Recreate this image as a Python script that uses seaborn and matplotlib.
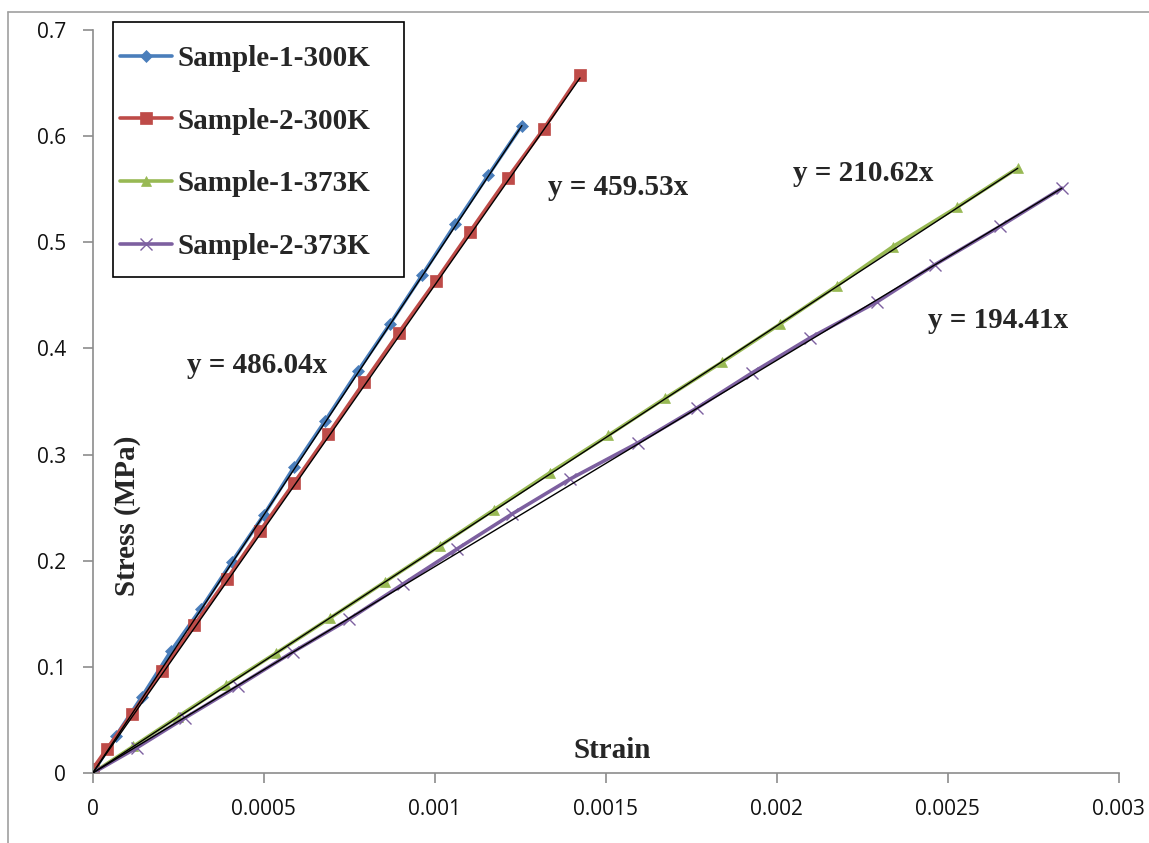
import numpy as np
import pandas as pd
import matplotlib
matplotlib.use("Agg")
import matplotlib.pyplot as plt
from matplotlib.lines import Line2D
from matplotlib.patches import Rectangle
import seaborn as sns

# Stress-strain measurements (strain, stress in MPa)
s1_300_strain = [0, 0.000068, 0.000144, 0.000229, 0.000317, 0.000407, 0.000500, 0.000588,
                 0.000680, 0.000776, 0.000869, 0.000963, 0.001060, 0.001156, 0.001255]
s1_300_stress = [0, 0.035, 0.072, 0.115, 0.155, 0.199, 0.243, 0.288,
                 0.332, 0.379, 0.423, 0.469, 0.517, 0.563, 0.610]

s2_300_strain = [0, 0.000042, 0.000115, 0.000203, 0.000296, 0.000393, 0.000489, 0.000588,
                 0.000688, 0.000793, 0.000895, 0.001004, 0.001103, 0.001214, 0.001319, 0.001425]
s2_300_stress = [0.004, 0.023, 0.056, 0.096, 0.139, 0.183, 0.228, 0.273,
                 0.319, 0.368, 0.415, 0.464, 0.510, 0.561, 0.607, 0.658]

s1_373_strain = [0, 0.000118, 0.000249, 0.000390, 0.000536, 0.000694, 0.000854, 0.001015,
                 0.001173, 0.001337, 0.001507, 0.001673, 0.001840, 0.002010, 0.002176,
                 0.002340, 0.002527, 0.002705]
s1_373_stress = [0, 0.025, 0.053, 0.083, 0.113, 0.146, 0.180, 0.214,
                 0.248, 0.283, 0.318, 0.353, 0.387, 0.423, 0.459,
                 0.496, 0.533, 0.570]

s2_373_strain = [0, 0.000130, 0.000270, 0.000425, 0.000585, 0.000750, 0.000907, 0.001065,
                 0.001226, 0.001396, 0.001594, 0.001767, 0.001928, 0.002098, 0.002294,
                 0.002463, 0.002653, 0.002834]
s2_373_stress = [0, 0.024, 0.052, 0.082, 0.114, 0.145, 0.178, 0.211,
                 0.244, 0.277, 0.311, 0.344, 0.377, 0.410, 0.444,
                 0.479, 0.515, 0.551]

series_names = ["Sample-1-300K", "Sample-2-300K", "Sample-1-373K", "Sample-2-373K"]
trend_slopes = [486.04, 459.53, 210.62, 194.41]
x_ticks = [0, 0.0005, 0.001, 0.0015, 0.002, 0.0025, 0.003]
x_tick_labels = ["0", "0.0005", "0.001", "0.0015", "0.002", "0.0025", "0.003"]
y_ticks = [0, 0.1, 0.2, 0.3, 0.4, 0.5, 0.6, 0.7]
y_tick_labels = ["0", "0.1", "0.2", "0.3", "0.4", "0.5", "0.6", "0.7"]

sns.set_style("white")
plt.rcParams["font.family"] = ["Open Sans", "DejaVu Sans"]

W, H = 1149, 843
fig = plt.figure(figsize=(W / 100, H / 100), dpi=100)
ax = fig.add_axes([0.0807, 0.083, 0.8929, 0.8814])

colors = ["#4A7EBB", "#BE4B48", "#98B954", "#7D60A0"]
markers = ["D", "s", "^", "x"]
msizes = [6.5, 8.5, 7.5, 9]
data = [(s1_300_strain, s1_300_stress), (s2_300_strain, s2_300_stress),
        (s1_373_strain, s1_373_stress), (s2_373_strain, s2_373_stress)]

handles = []
for (xs, ys), name, c, m, ms in zip(data, series_names, colors, markers, msizes):
    df = pd.DataFrame({"strain": xs, "stress": ys})
    mew = 1.0 if m == "x" else 0.5
    sns.lineplot(data=df, x="strain", y="stress", ax=ax, color=c, lw=2.6,
                 marker=m, markersize=ms, markeredgecolor=c,
                 markeredgewidth=mew, sort=False, label=name, legend=False)
    handles.append(Line2D([0], [0], color=c, lw=2.6, marker=m, markersize=ms,
                          markeredgecolor=c, markeredgewidth=mew))

# Linear trendlines through the origin
for (xs, ys), k in zip(data, trend_slopes):
    xt = np.array([0, max(xs)])
    ax.plot(xt, k * xt, color="black", lw=1.0, zorder=5)

ax.set_xlim(0, 0.003)
ax.set_ylim(0, 0.7)
ax.set_xticks(x_ticks)
ax.set_xticklabels(x_tick_labels)
ax.set_yticks(y_ticks)
ax.set_yticklabels(y_tick_labels)

for side in ["top", "right"]:
    ax.spines[side].set_visible(False)
for side in ["left", "bottom"]:
    ax.spines[side].set_color("#8c8c8c")
    ax.spines[side].set_linewidth(1.2)
ax.tick_params(axis="both", direction="out", length=7, width=1.2, color="#8c8c8c",
               labelsize=15, pad=12, labelcolor="#111111")
ax.tick_params(axis="both", which="both", bottom=True, left=True)

serif_bold = dict(family=["Liberation Serif", "DejaVu Serif"], weight="bold")
ax.set_xlabel("Strain", fontsize=21, **serif_bold)
ax.set_ylabel("Stress (MPa)", fontsize=21, **serif_bold)
ax.xaxis.set_label_coords(0.506, 0.049)
ax.yaxis.set_label_coords(0.047, 0.346)

eq_texts = ["y = 486.04x", "y = 459.53x", "y = 210.62x", "y = 194.41x"]
eq_pos = [(0.000276, 0.3844), (0.001331, 0.552), (0.002048, 0.565), (0.002442, 0.4268)]
for t, (xp, yp) in zip(eq_texts, eq_pos):
    ax.text(xp, yp, t, fontsize=21, va="center", ha="left", **serif_bold)

# Legend box drawn as its own frame, entries placed inside it
fig.add_artist(Rectangle((113 / W, 1 - 277 / H), 291 / W, 255 / H, transform=fig.transFigure,
                         facecolor="white", edgecolor="black", lw=1.2, zorder=4))
leg = fig.legend(handles, series_names, loc="upper left",
                 bbox_to_anchor=(120 / W, 1 - 45 / H), frameon=False,
                 prop=dict(family=["Liberation Serif", "DejaVu Serif"], weight="bold", size=21),
                 handlelength=1.78, handletextpad=0.2, labelspacing=1.22,
                 borderpad=0, borderaxespad=0)
leg.set_zorder(5)

# Chart area border (left and top edges)
fig.add_artist(Line2D([8 / W, 8 / W], [0, 1 - 12 / H], color="#a0a0a0", lw=1.2,
                      transform=fig.transFigure))
fig.add_artist(Line2D([8 / W, 1], [1 - 12 / H, 1 - 12 / H], color="#a0a0a0", lw=1.2,
                      transform=fig.transFigure))

fig.savefig("out.png", dpi=100)
